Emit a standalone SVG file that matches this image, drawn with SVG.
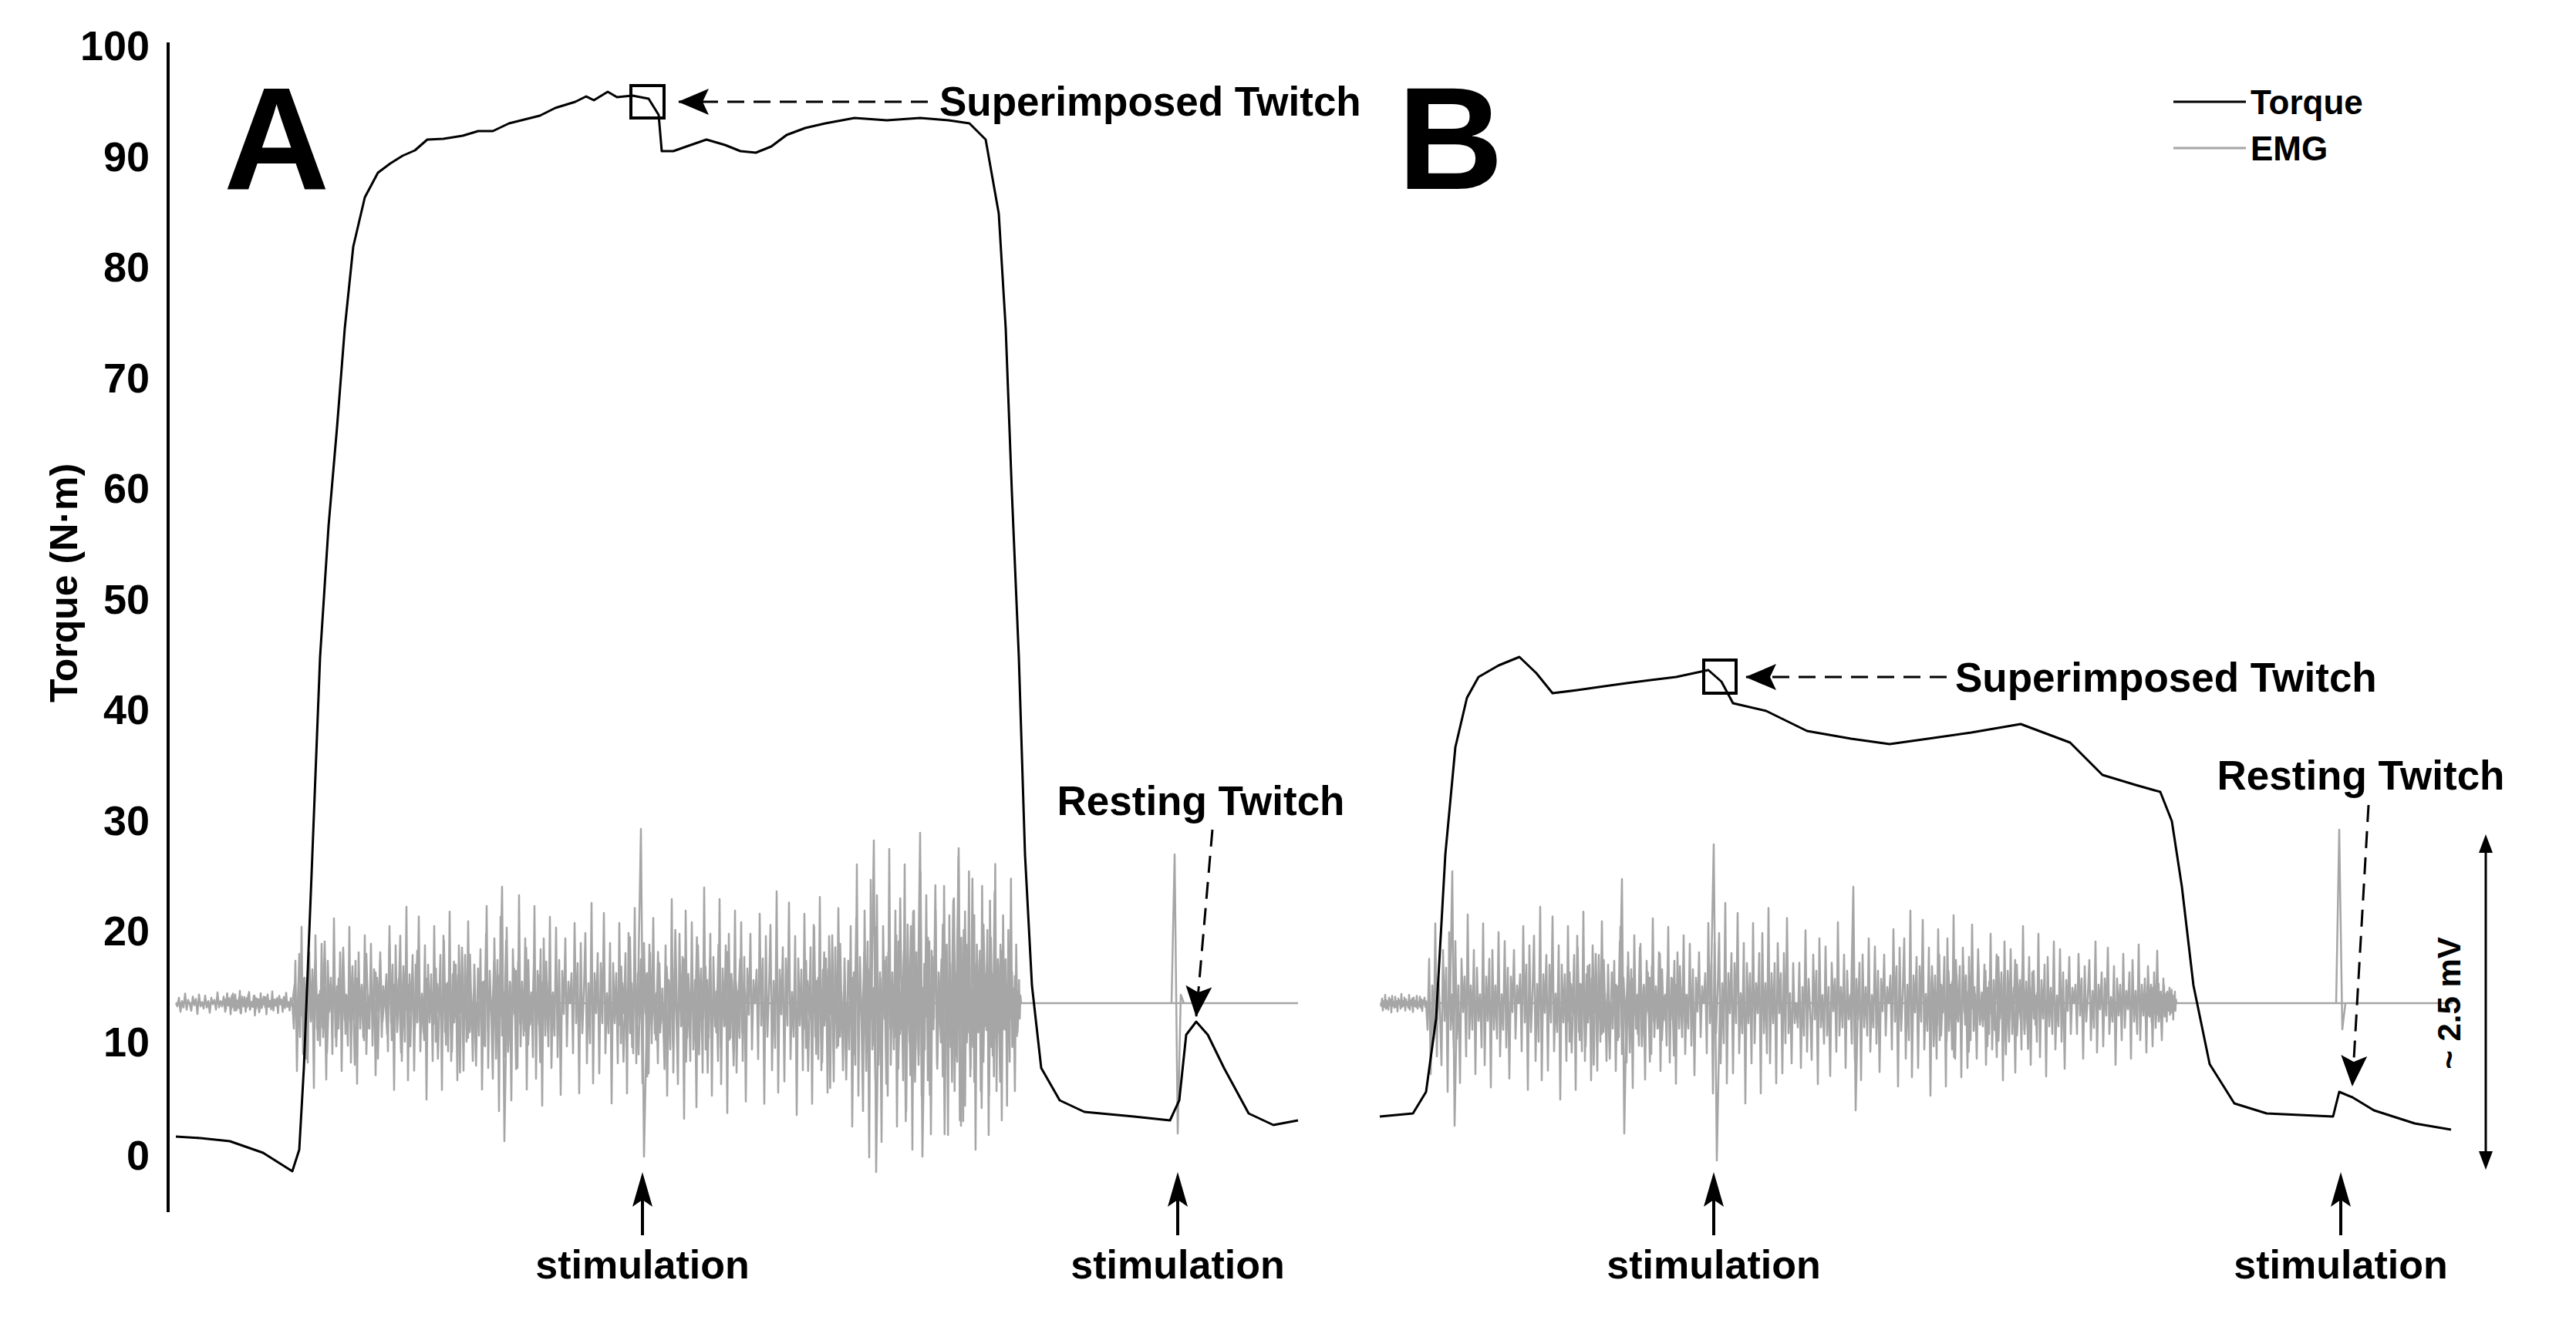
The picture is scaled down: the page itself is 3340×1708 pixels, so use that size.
<svg xmlns="http://www.w3.org/2000/svg" xmlns:xlink="http://www.w3.org/1999/xlink" width="3340" height="1708" viewBox="0 0 3340 1708">
<style>
text{font-family:"Liberation Sans",Arial,sans-serif;font-weight:bold;fill:#000}
.tick{font-size:54px;text-anchor:end}
.lbl{font-size:50px}
.torque{fill:none;stroke:#000;stroke-width:3;stroke-linejoin:round}
.emg{fill:none;stroke:#a6a6a6;stroke-width:2.5;stroke-linejoin:round}
.dash{fill:none;stroke:#000;stroke-width:3;stroke-dasharray:22 12}
.solid{fill:none;stroke:#000;stroke-width:4}
.sh{fill:#000}
</style>
<defs>
<marker id="ah" viewBox="0 0 10 10" refX="9" refY="5" markerWidth="10" markerHeight="10" markerUnits="userSpaceOnUse" orient="auto" overflow="visible"><path d="M-30,-12 L10,5 L-30,22 L-22,5 Z" fill="#000"/></marker>
<path id="nz" vector-effect="non-scaling-stroke" d="M0,0 L2,.3 L4,-.5 L6,.8 L8,-.2 L10,.4 L12,-.9 L14,.6 L16,-.3 L18,.1 L20,.7 L22,-.6 L24,.2 L26,-.4 L28,1 L30,-.8 L32,.3 L34,-.1 L36,.5 L38,-.7 L40,.4 L42,-.2 L44,.9 L46,-.5 L48,.1 L50,-.3 L52,.6 L54,-1 L56,.4 L58,-.2 L60,.3 L62,-.6 L64,.8 L66,-.4 L68,.2 L70,-.1 L72,.5 L74,-.9 L76,.7 L78,-.3 L80,.2 L82,-.5 L84,.95 L86,-.6 L88,.3 L90,-.2 L92,.4 L94,-.8 L96,.6 L98,-.1 L100,.3 L102,-.7 L104,.5 L106,-.4 L108,.85 L110,-.3 L112,.1 L114,-.6 L116,.4 L118,-.2 L120,0"/>
<path id="stim" d="M0,0 L-13,45 L0,36 L13,45 Z"/>
</defs>
<rect width="3340" height="1708" fill="#fff"/>
<g id="axis">
<line x1="218" y1="55" x2="218" y2="1572" stroke="#000" stroke-width="4"/>
<text class="tick" x="194" y="78">100</text>
<text class="tick" x="194" y="222">90</text>
<text class="tick" x="194" y="365">80</text>
<text class="tick" x="194" y="509">70</text>
<text class="tick" x="194" y="652">60</text>
<text class="tick" x="194" y="796">50</text>
<text class="tick" x="194" y="939">40</text>
<text class="tick" x="194" y="1083">30</text>
<text class="tick" x="194" y="1226">20</text>
<text class="tick" x="194" y="1370">10</text>
<text class="tick" x="194" y="1517">0</text>
<text class="lbl" transform="translate(100,756) rotate(-90)" text-anchor="middle">Torque (N·m)</text>
</g>
<g id="panel-labels">
<text x="290" y="245" style="font-size:190px">A</text>
<text x="1812" y="245" style="font-size:190px">B</text>
</g>
<g id="legend">
<line x1="2818" y1="132" x2="2912" y2="132" stroke="#000" stroke-width="3"/>
<line x1="2818" y1="192" x2="2912" y2="192" stroke="#a6a6a6" stroke-width="3"/>
<text x="2918" y="148" style="font-size:44px">Torque</text>
<text x="2918" y="208" style="font-size:44px">EMG</text>
</g>
<g id="emg-A">
<line class="emg" x1="228" y1="1301" x2="1683" y2="1301"/>
<use href="#nz" class="emg" transform="translate(228,1301) scale(1,14)"/>
<use href="#nz" class="emg" transform="translate(290,1301) scale(0.75,-16)"/>
<use href="#nz" class="emg" transform="translate(379,1301) scale(1,110)"/>
<use href="#nz" class="emg" transform="translate(379,1301) scale(1.5,-80)"/>
<use href="#nz" class="emg" transform="translate(499,1301) scale(1,-125)"/>
<use href="#nz" class="emg" transform="translate(560,1301) scale(1.3,90)"/>
<use href="#nz" class="emg" transform="translate(619,1301) scale(1,140)"/>
<use href="#nz" class="emg" transform="translate(739,1301) scale(1,-130)"/>
<use href="#nz" class="emg" transform="translate(800,1301) scale(1.4,95)"/>
<use href="#nz" class="emg" transform="translate(859,1301) scale(1,150)"/>
<use href="#nz" class="emg" transform="translate(979,1301) scale(1,-145)"/>
<use href="#nz" class="emg" transform="translate(1040,1301) scale(1.3,110)"/>
<use href="#nz" class="emg" transform="translate(1099,1301) scale(1,200)"/>
<use href="#nz" class="emg" transform="translate(1160,1301) scale(1.2,-170)"/>
<use href="#nz" class="emg" transform="translate(1219,1301) scale(0.85,-190)"/>
<use href="#nz" class="emg" transform="translate(1270,1301) scale(0.45,50)"/>
<polyline class="emg" points="827,1301 831,1075 835,1500 839,1301"/>
<polyline class="emg" points="648,1301 651,1150 654,1480 657,1301"/>
<polyline class="emg" points="1130,1301 1133,1090 1136,1520 1139,1301"/>
<polyline class="emg" points="1190,1301 1193,1080 1196,1500 1199,1301"/>
<polyline class="emg" points="1240,1301 1243,1100 1246,1460 1249,1301"/>
<polyline class="emg" points="1519,1301 1523,1108 1527,1470 1531,1290 1535,1301"/>
</g>
<g id="emg-B">
<line class="emg" x1="1790" y1="1301" x2="3180" y2="1301"/>
<use href="#nz" class="emg" transform="translate(1790,1301) scale(0.5,12)"/>
<use href="#nz" class="emg" transform="translate(1849,1301) scale(1,115)"/>
<use href="#nz" class="emg" transform="translate(1969,1301) scale(1,-125)"/>
<use href="#nz" class="emg" transform="translate(2030,1301) scale(1.3,80)"/>
<use href="#nz" class="emg" transform="translate(2089,1301) scale(1,110)"/>
<use href="#nz" class="emg" transform="translate(2209,1301) scale(1,-130)"/>
<use href="#nz" class="emg" transform="translate(2329,1301) scale(1,105)"/>
<use href="#nz" class="emg" transform="translate(2449,1301) scale(1,-120)"/>
<use href="#nz" class="emg" transform="translate(2500,1301) scale(1.2,70)"/>
<use href="#nz" class="emg" transform="translate(2569,1301) scale(1,100)"/>
<use href="#nz" class="emg" transform="translate(2689,1301) scale(1,-80)"/>
<use href="#nz" class="emg" transform="translate(2780,1301) scale(0.35,25)"/>
<polyline class="emg" points="2218,1301 2222,1095 2226,1505 2230,1301"/>
<polyline class="emg" points="1880,1301 1883,1130 1886,1460 1889,1301"/>
<polyline class="emg" points="2100,1301 2103,1140 2106,1470 2109,1301"/>
<polyline class="emg" points="2400,1301 2403,1150 2406,1440 2409,1301"/>
<polyline class="emg" points="3029,1301 3033,1076 3037,1335 3041,1301"/>
</g>
<g id="torque-A">
<path class="torque" d="M228,1474 L260,1476 L298,1480 L341,1495 L379,1519 L388,1491 L394,1385 L405,1108 L415,852 L426,682 L437,554 L447,426 L458,320 L473,256 L490,224 L506,212 L522,202 L538,195 L554,181 L575,180 L600,176 L620,170 L639,170 L660,160 L680,155 L700,150 L720,140 L746,132 L760,125 L770,130 L788,119 L800,126 L820,124 L841,128 L854,149 L858,196 L873,196 L890,190 L916,181 L940,188 L960,196 L980,198 L1000,190 L1020,175 L1044,166 L1070,160 L1108,153 L1150,156 L1193,153 L1230,156 L1257,160 L1278,181 L1295,277 L1304,426 L1312,639 L1321,852 L1329,1108 L1338,1278 L1350,1385 L1374,1427 L1406,1442 L1470,1448 L1517,1453 L1529,1427 L1538,1342 L1551,1325 L1566,1342 L1587,1385 L1619,1444 L1651,1459 L1683,1453"/>
<rect x="818" y="111" width="43" height="42" fill="none" stroke="#000" stroke-width="4"/>
</g>
<g id="torque-B">
<path class="torque" d="M1789,1448 L1832,1444 L1849,1416 L1862,1321 L1874,1108 L1887,969 L1902,905 L1917,878 L1943,863 L1970,852 L1992,873 L2013,899 L2045,895 L2080,890 L2109,886 L2140,882 L2173,878 L2215,869 L2232,884 L2247,912 L2290,922 L2343,948 L2400,958 L2450,965 L2500,958 L2556,950 L2620,939 L2684,963 L2726,1005 L2769,1018 L2801,1027 L2816,1065 L2829,1150 L2844,1278 L2865,1380 L2897,1431 L2939,1444 L3025,1448 L3033,1416 L3050,1423 L3078,1440 L3131,1457 L3178,1465"/>
<rect x="2209" y="856" width="42" height="43" fill="none" stroke="#000" stroke-width="4"/>
</g>
<g id="connectors">
<line class="dash" x1="1203" y1="132" x2="880" y2="132" marker-end="url(#ah)"/>
<line class="dash" x1="2524" y1="878" x2="2264" y2="878" marker-end="url(#ah)"/>
<line class="dash" x1="1572" y1="1076" x2="1551" y2="1318" marker-end="url(#ah)"/>
<line class="dash" x1="3071" y1="1044" x2="3050" y2="1408" marker-end="url(#ah)"/>
<line class="solid" x1="833" y1="1602" x2="833" y2="1550"/>
<use href="#stim" class="sh" x="833" y="1520"/>
<line class="solid" x1="1527" y1="1602" x2="1527" y2="1550"/>
<use href="#stim" class="sh" x="1527" y="1520"/>
<line class="solid" x1="2222" y1="1602" x2="2222" y2="1550"/>
<use href="#stim" class="sh" x="2222" y="1520"/>
<line class="solid" x1="3035" y1="1602" x2="3035" y2="1550"/>
<use href="#stim" class="sh" x="3035" y="1520"/>
<line x1="3223" y1="1100" x2="3223" y2="1500" stroke="#000" stroke-width="3"/>
<path d="M3223,1082 L3214,1106 L3232,1106 Z M3223,1517 L3214,1493 L3232,1493 Z" fill="#000"/>
</g>
<g id="labels">
<text x="1218" y="150" style="font-size:53px">Superimposed Twitch</text>
<text x="2535" y="897" style="font-size:53px">Superimposed Twitch</text>
<text x="1557" y="1057" text-anchor="middle" style="font-size:53px">Resting Twitch</text>
<text x="3061" y="1024" text-anchor="middle" style="font-size:53px">Resting Twitch</text>
<text x="833" y="1658" text-anchor="middle" style="font-size:52px">stimulation</text>
<text x="1527" y="1658" text-anchor="middle" style="font-size:52px">stimulation</text>
<text x="2222" y="1658" text-anchor="middle" style="font-size:52px">stimulation</text>
<text x="3035" y="1658" text-anchor="middle" style="font-size:52px">stimulation</text>
<text transform="translate(3190,1301) rotate(-90)" text-anchor="middle" style="font-size:42px">~ 2.5 mV</text>
</g>
</svg>
